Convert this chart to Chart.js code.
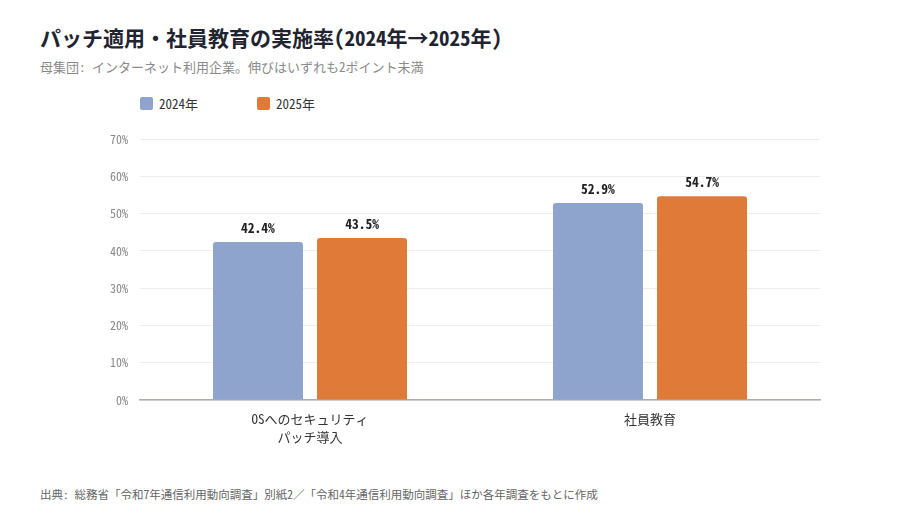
<!DOCTYPE html>
<html lang="ja">
<head>
<meta charset="UTF-8">
<style>
  body { margin: 0; width: 900px; height: 520px; position: relative; background: #fff;
         font-family: "Noto Sans Mono CJK JP", "Noto Sans CJK JP", sans-serif; overflow: hidden; }
  #title { position: absolute; left: 40px; top: 22px; font-size: 21px; font-weight: bold; color: #1f2430; }
  #subtitle { position: absolute; left: 40px; top: 57px; font-size: 13px; color: #8a8a8a; }
  #legend { position: absolute; left: 140px; top: 94px; font-size: 13px; color: #333; }
  .item { position: absolute; top: 0; white-space: nowrap; display: flex; align-items: center; }
  .box { width: 13px; height: 13px; border-radius: 2px; margin-right: 6px; }
  #footer { position: absolute; left: 40px; top: 486px; font-size: 11.5px; color: #666; }
  #wrap { position: absolute; left: 100px; top: 120px; width: 800px; height: 330px; }
</style>
</head>
<body>
<div id="title">パッチ適用・社員教育の実施率(2024年→2025年)</div>
<div id="subtitle">母集団: インターネット利用企業。伸びはいずれも2ポイント未満</div>
<div id="legend"></div>
<div id="wrap"><canvas id="myChart"></canvas></div>
<div id="footer">出典: 総務省「令和7年通信利用動向調査」別紙2／「令和4年通信利用動向調査」ほか各年調査をもとに作成</div>

<script src="https://cdn.jsdelivr.net/npm/chart.js"></script>
<script>
const categories = [['OSへのセキュリティ', 'パッチ導入'], '社員教育'];
const years = ['2024年', '2025年'];
const values2024 = [42.4, 52.9];
const values2025 = [43.5, 54.7];
const colors = ['#8fa4cd', '#e07a39'];
const yTicks = [0, 10, 20, 30, 40, 50, 60, 70];

const FONT = '"Noto Sans Mono CJK JP", "Noto Sans CJK JP", sans-serif';

// legend in html
const legend = document.getElementById('legend');
years.forEach((y, i) => {
    const el = document.createElement('div');
    el.className = 'item';
    el.style.left = (i * 117) + 'px';
    el.innerHTML = '<span class="box" style="background:' + colors[i] + '"></span>' + y;
    legend.appendChild(el);
});

// value labels above bars
const valueLabels = {
    id: 'valueLabels',
    afterDatasetsDraw(chart) {
        const c = chart.ctx;
        c.save();
        c.font = 'bold 13.5px ' + FONT;
        c.fillStyle = '#222';
        c.textAlign = 'center';
        c.textBaseline = 'middle';
        chart.data.datasets.forEach((ds, i) => {
            chart.getDatasetMeta(i).data.forEach((bar, j) => {
                c.fillText(ds.data[j].toFixed(1) + '%', bar.x, bar.y - 14);
            });
        });
        c.restore();
    }
};

const ctx = document.getElementById('myChart');
new Chart(ctx, {
    type: 'bar',
    data: {
        labels: categories,
        datasets: [
            { label: years[0], data: values2024, backgroundColor: colors[0], borderRadius: 3, borderSkipped: 'bottom' },
            { label: years[1], data: values2025, backgroundColor: colors[1], borderRadius: 3, borderSkipped: 'bottom' }
        ]
    },
    options: {
        responsive: true,
        maintainAspectRatio: false,
        animation: false,
        categoryPercentage: 0.612,
        barPercentage: 0.865,
        layout: { padding: { top: 19, right: 80, bottom: 0, left: 0 } },
        plugins: {
            legend: { display: false },
            tooltip: { enabled: false }
        },
        scales: {
            x: {
                grid: { display: false, drawTicks: false },
                border: { color: '#a9adb8', width: 1.5 },
                ticks: { color: '#333', font: { family: FONT, size: 13, lineHeight: 1.4 }, padding: 10, maxRotation: 0 },
                afterFit: s => { s.height = 50; }
            },
            y: {
                min: 0,
                max: 70,
                afterBuildTicks: s => { s.ticks = yTicks.map(v => ({ value: v })); },
                grid: { color: '#ececec', drawTicks: false },
                border: { display: false },
                ticks: { color: '#888', font: { family: FONT, size: 12 }, padding: 12, callback: v => v + '%' },
                afterFit: s => { s.width = 40; }
            }
        }
    },
    plugins: [valueLabels]
});
</script>
</body>
</html>
